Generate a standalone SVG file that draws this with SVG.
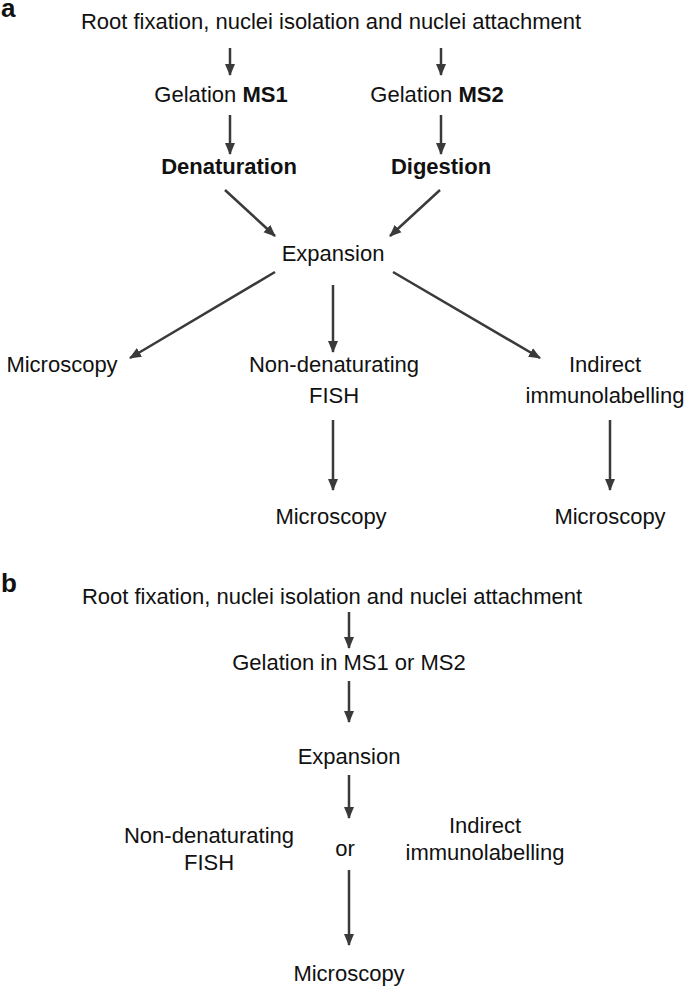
<svg xmlns="http://www.w3.org/2000/svg" width="685" height="989" viewBox="0 0 685 989">
<style>
text{font-family:"Liberation Sans",Arial,sans-serif;font-size:22px;fill:#111;text-anchor:middle}
.b{font-weight:bold}
.lbl{font-weight:bold;font-size:26px;text-anchor:start}
.c line{stroke:#3a3a3a;stroke-width:2.5;marker-end:url(#ah)}
</style>
<defs>
<marker id="ah" markerUnits="userSpaceOnUse" markerWidth="12" markerHeight="12" viewBox="0 0 12 12" refX="11" refY="6" orient="auto">
<path d="M0,1 L12,6 L0,11 Z" fill="#3a3a3a"/>
</marker>
</defs>
<rect width="685" height="989" fill="#fff"/>
<text class="lbl" x="1" y="17">a</text>
<text class="lbl" x="1" y="592">b</text>
<g id="a_root"><text x="331" y="29">Root fixation, nuclei isolation and nuclei attachment</text></g>
<g id="a_gel1"><text x="221" y="102">Gelation <tspan class="b">MS1</tspan></text></g>
<g id="a_gel2"><text x="437" y="102">Gelation <tspan class="b">MS2</tspan></text></g>
<g id="a_den"><text class="b" x="229" y="174">Denaturation</text></g>
<g id="a_dig"><text class="b" x="441" y="174">Digestion</text></g>
<g id="a_exp"><text x="333" y="261">Expansion</text></g>
<g id="a_mic1"><text x="62" y="372">Microscopy</text></g>
<g id="a_fish"><text x="334" y="372">Non-denaturating</text><text x="334" y="403">FISH</text></g>
<g id="a_immu"><text x="605" y="372">Indirect</text><text x="605" y="403">immunolabelling</text></g>
<g id="a_mic2"><text x="331" y="524">Microscopy</text></g>
<g id="a_mic3"><text x="610" y="524">Microscopy</text></g>
<g id="b_root"><text x="332" y="604">Root fixation, nuclei isolation and nuclei attachment</text></g>
<g id="b_gel"><text x="349" y="670">Gelation in MS1 or MS2</text></g>
<g id="b_exp"><text x="349" y="764">Expansion</text></g>
<g id="b_fish"><text x="209" y="843">Non-denaturating</text><text x="209" y="870">FISH</text></g>
<g id="b_or"><text x="345" y="856">or</text></g>
<g id="b_immu"><text x="485" y="833">Indirect</text><text x="485" y="860">immunolabelling</text></g>
<g id="b_mic"><text x="349" y="981">Microscopy</text></g>
<g class="c" id="connectors">
<line x1="230" y1="48" x2="230" y2="75"/>
<line x1="441" y1="48" x2="441" y2="75"/>
<line x1="230" y1="115" x2="230" y2="154"/>
<line x1="441" y1="115" x2="441" y2="154"/>
<line x1="225" y1="190" x2="275" y2="236"/>
<line x1="440" y1="190" x2="390" y2="236"/>
<line x1="275" y1="272" x2="130" y2="358"/>
<line x1="333" y1="285" x2="333" y2="352"/>
<line x1="393" y1="272" x2="540" y2="358"/>
<line x1="333" y1="420" x2="333" y2="490"/>
<line x1="610" y1="420" x2="610" y2="490"/>
<line x1="349" y1="612" x2="349" y2="648"/>
<line x1="349" y1="681" x2="349" y2="722"/>
<line x1="349" y1="775" x2="349" y2="818"/>
<line x1="349" y1="870" x2="349" y2="945"/>
</g>
</svg>
